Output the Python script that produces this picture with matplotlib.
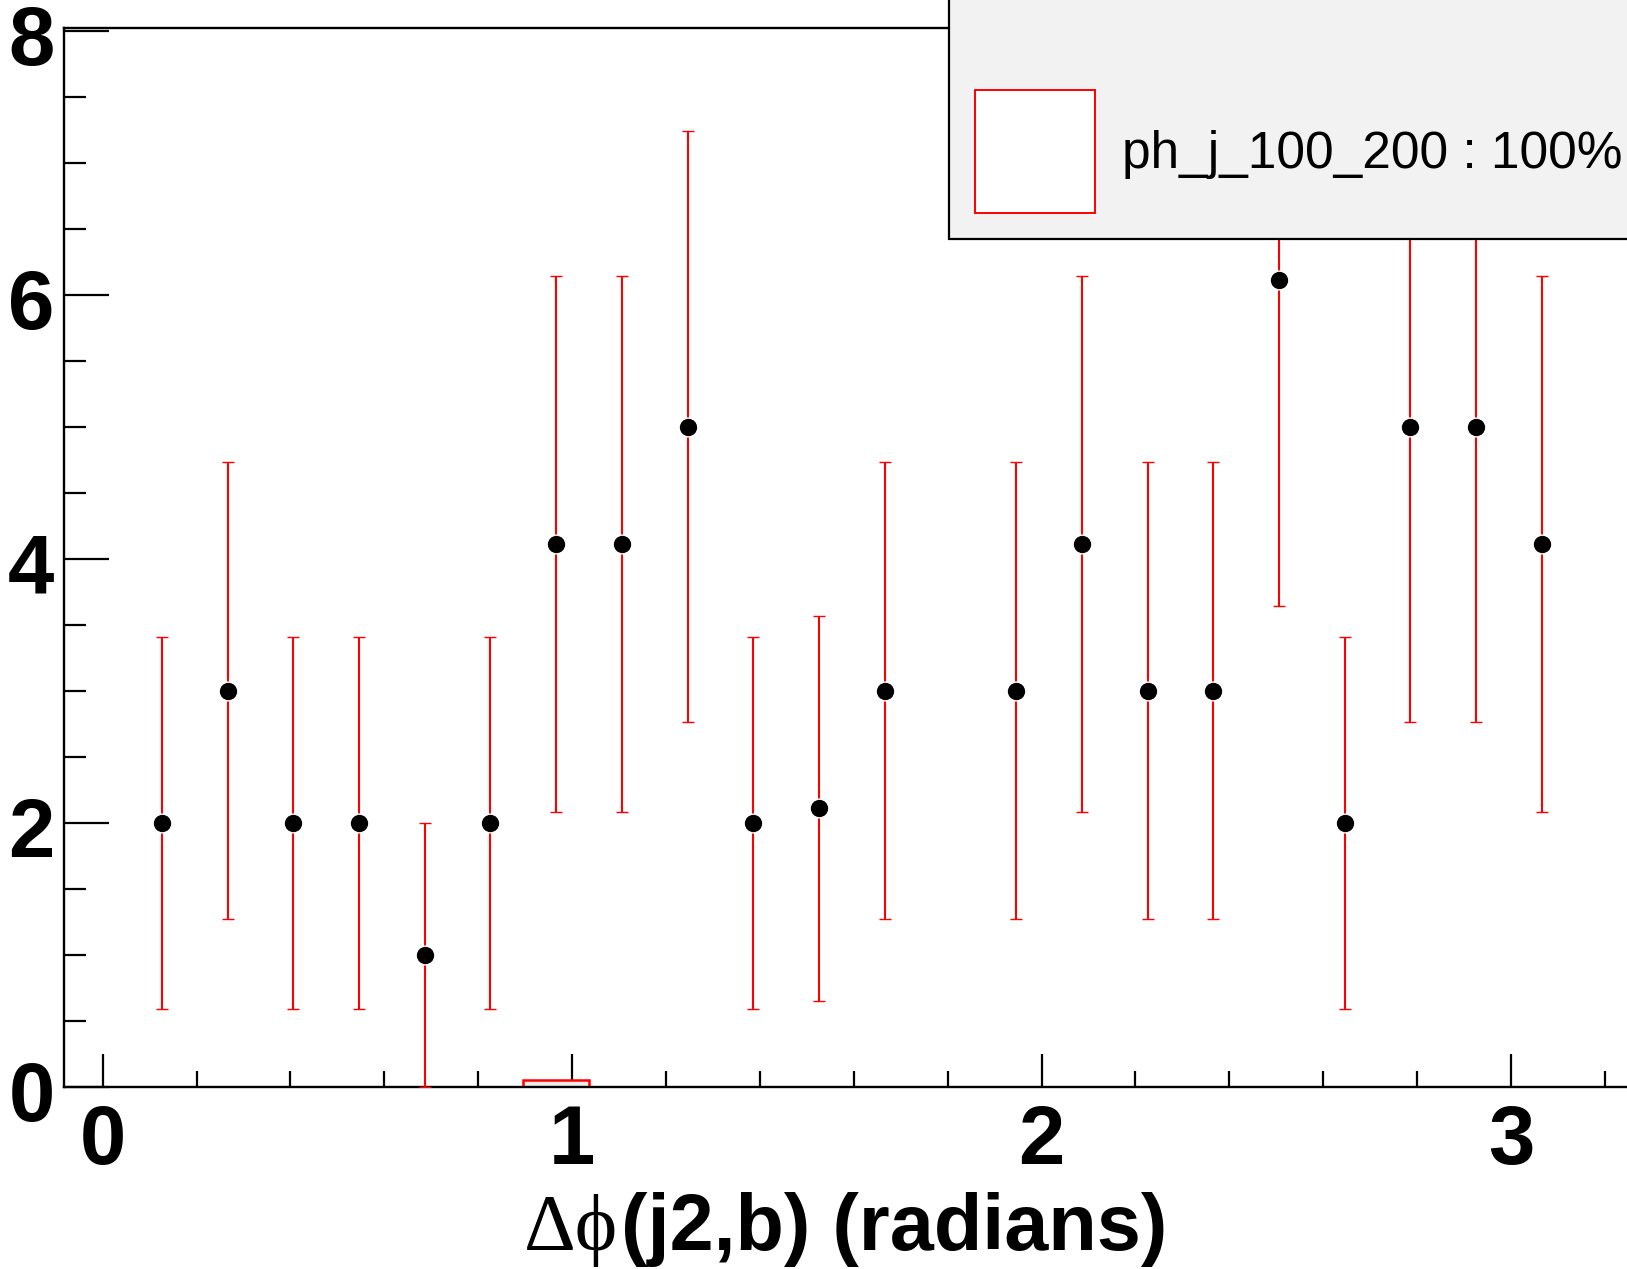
import matplotlib
matplotlib.use("Agg")
import matplotlib.pyplot as plt
from matplotlib.patches import Rectangle
from matplotlib.ticker import MultipleLocator, FixedLocator
from matplotlib.transforms import ScaledTranslation

# ---- data ----
bin_centers = [0.126, 0.266, 0.406, 0.546, 0.686, 0.826, 0.966, 1.106, 1.246,
               1.386, 1.526, 1.666, 1.946, 2.086, 2.226, 2.366, 2.506, 2.646,
               2.786, 2.926, 3.066]
counts = [2.0, 3.0, 2.0, 2.0, 1.0, 2.0, 4.11, 4.11, 5.0,
          2.0, 2.11, 3.0, 3.0, 4.11, 3.0, 3.0, 6.11, 2.0,
          5.0, 5.0, 4.11]
errors = [1.41, 1.73, 1.41, 1.41, 1.0, 1.41, 2.03, 2.03, 2.24,
          1.41, 1.46, 1.73, 1.73, 2.03, 1.73, 1.73, 2.47, 1.41,
          2.24, 2.24, 2.03]

hist_centers = [0.966]
hist_values = [0.05]
hist_width = 0.14

x_ticks = [0, 1, 2, 3]
x_ticklabels = ["0", "1", "2", "3"]
y_ticks = [0, 2, 4, 6, 8]
y_ticklabels = ["0", "2", "4", "6", "8"]
legend_label = "ph_j_100_200 : 100%"
xlabel_sym = "\u0394\u03d5"
xlabel_rest = "(j2,b) (radians)"

W, H = 1627, 1269
fig = plt.figure(figsize=(W / 100, H / 100), dpi=100)

# axes placement (pixel geometry from reference)
ax_left_px, ax_right_px = 64.3, 1679.9
ax_top_px, ax_bot_px = 28.3, 1086.7
ax = fig.add_axes([ax_left_px / W, (H - ax_bot_px) / H,
                   (ax_right_px - ax_left_px) / W, (ax_bot_px - ax_top_px) / H])
ax.set_xlim(-0.0818, 3.36)
ax.set_ylim(0, 8.02)

# red histogram bar
ax.bar(hist_centers, hist_values, width=hist_width, facecolor="#ececec",
       edgecolor="#ff0000", linewidth=1.8, zorder=2)

# data points with error bars
ax.errorbar(bin_centers, counts, yerr=errors, fmt="o", color="black",
            markersize=13.5, markeredgecolor="white", markeredgewidth=1.0,
            ecolor="#ff0000", elinewidth=1.5, capsize=4.0, capthick=1.5,
            zorder=3, clip_on=True)

# axes styling
for side in ["left", "top", "bottom"]:
    ax.spines[side].set_linewidth(1.7)
    ax.spines[side].set_color("black")
ax.spines["right"].set_visible(False)

ax.xaxis.set_major_locator(FixedLocator(x_ticks))
ax.xaxis.set_minor_locator(MultipleLocator(0.2))
ax.yaxis.set_major_locator(FixedLocator(y_ticks))
ax.yaxis.set_minor_locator(MultipleLocator(0.5))
ax.set_xticklabels(x_ticklabels)
ax.set_yticklabels(y_ticklabels)

ax.tick_params(axis="x", which="major", direction="in", length=23.8, width=1.6,
               pad=12, labelsize=60, top=False)
ax.tick_params(axis="x", which="minor", direction="in", length=11.5, width=1.6,
               top=False)
ax.tick_params(axis="y", which="major", direction="in", length=32.4, width=1.6,
               pad=7, labelsize=60, right=False)
ax.tick_params(axis="y", which="minor", direction="in", length=16, width=1.6,
               right=False)
for lbl in ax.get_xticklabels() + ax.get_yticklabels():
    lbl.set_fontfamily("Liberation Sans")
    lbl.set_fontweight("bold")
ydown = ScaledTranslation(0, -4 / 100, fig.dpi_scale_trans)
for lbl in ax.get_yticklabels():
    lbl.set_transform(lbl.get_transform() + ydown)

# x label: symbol part regular serif, rest bold sans
fig.text(618 / W, (H - 1250) / H, xlabel_sym, ha="right", va="baseline",
         fontsize=58, family=["Liberation Serif", "DejaVu Serif"])
fig.text(621 / W, (H - 1250) / H, xlabel_rest, ha="left", va="baseline",
         fontsize=57, fontweight="bold", family=["Liberation Sans", "DejaVu Sans"])

# legend box (extends beyond top/right of canvas as in reference)
leg_box = Rectangle((949 / W, (H - 239.3) / H), 0.5, 0.3, transform=fig.transFigure,
                    facecolor="#f2f2f2", edgecolor="black", linewidth=1.6,
                    zorder=10, clip_on=False)
fig.add_artist(leg_box)
leg_sq = Rectangle((975 / W, (H - 213.3) / H), 120 / W, 123.3 / H,
                   transform=fig.transFigure, facecolor="white",
                   edgecolor="#ff0000", linewidth=1.4, zorder=11, clip_on=False)
fig.add_artist(leg_sq)
t = fig.text(1121.7 / W, (H - 168.3) / H, legend_label, ha="left", va="baseline",
             fontsize=37, family=["Liberation Sans", "DejaVu Sans"], zorder=12)

fig.savefig("out.png", dpi=100, facecolor="white")
